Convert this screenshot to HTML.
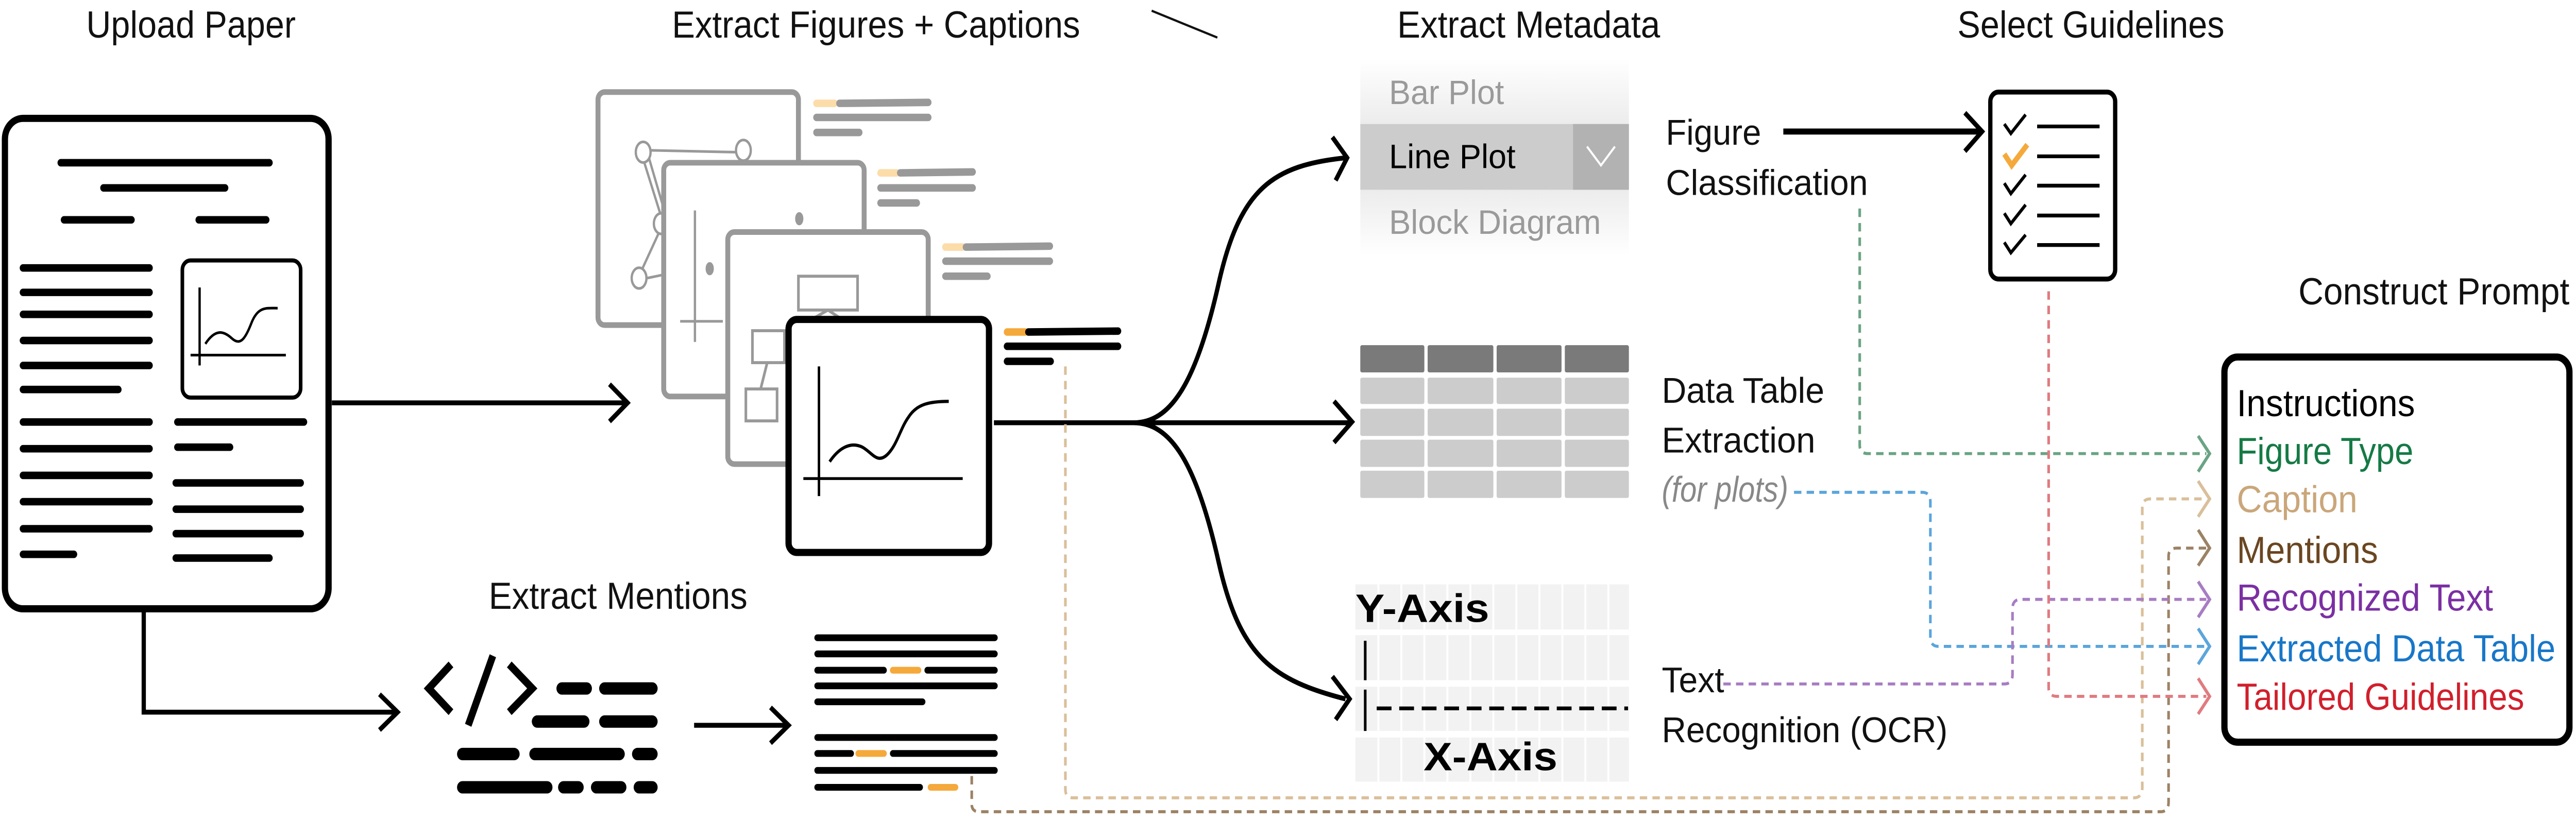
<!DOCTYPE html>
<html><head><meta charset="utf-8"><style>
html,body{margin:0;padding:0;background:#fff;width:100%;height:100%;overflow:hidden;}
svg{display:block;width:100vw;height:100vh;}
text{font-family:"Liberation Sans",sans-serif;}
</style></head><body>
<svg viewBox="0 0 1568 445.45" preserveAspectRatio="none" xmlns="http://www.w3.org/2000/svg">
<defs>
<linearGradient id="fade1" x1="0" y1="0" x2="0" y2="1"><stop offset="0" stop-color="#fff"/><stop offset="1" stop-color="#ececec"/></linearGradient>
<linearGradient id="fade2" x1="0" y1="0" x2="0" y2="1"><stop offset="0" stop-color="#ececec"/><stop offset="1" stop-color="#fff"/></linearGradient>
</defs>
<rect width="1568" height="445.45" fill="#fff"/>

<g font-size="20" fill="#111">
<text x="52.5" y="20" textLength="127.5" lengthAdjust="spacingAndGlyphs">Upload Paper</text>
<text x="409" y="20" textLength="248.5" lengthAdjust="spacingAndGlyphs">Extract Figures + Captions</text>
<text x="297.5" y="324" textLength="157.5" lengthAdjust="spacingAndGlyphs">Extract Mentions</text>
<text x="850.5" y="20" textLength="160" lengthAdjust="spacingAndGlyphs">Extract Metadata</text>
<text x="1191.5" y="20" textLength="162.5" lengthAdjust="spacingAndGlyphs">Select Guidelines</text>
<text x="1399" y="162" textLength="165" lengthAdjust="spacingAndGlyphs">Construct Prompt</text>
</g>
<line x1="701" y1="5.7" x2="741" y2="20" stroke="#111" stroke-width="1.2"/>

<rect x="3" y="63" width="197" height="261" rx="11" fill="#fff" stroke="#000" stroke-width="3.8"/>
<g stroke="#000" stroke-width="4" stroke-linecap="round">
<line x1="37" y1="86.6" x2="164" y2="86.6"/>
<line x1="63" y1="100" x2="137" y2="100"/>
<line x1="39" y1="117" x2="80" y2="117"/><line x1="121" y1="117" x2="162" y2="117"/>
<line x1="14" y1="142.6" x2="91" y2="142.6"/>
<line x1="14" y1="155.6" x2="91" y2="155.6"/>
<line x1="14" y1="167.3" x2="91" y2="167.3"/>
<line x1="14" y1="181.2" x2="91" y2="181.2"/>
<line x1="14" y1="194.5" x2="91" y2="194.5"/>
<line x1="14" y1="207.3" x2="72" y2="207.3"/>
<line x1="14" y1="224.6" x2="91" y2="224.6"/>
<line x1="14" y1="238.8" x2="91" y2="238.8"/>
<line x1="14" y1="253" x2="91" y2="253"/>
<line x1="14" y1="267" x2="91" y2="267"/>
<line x1="14" y1="281.4" x2="91" y2="281.4"/>
<line x1="14" y1="295" x2="45" y2="295"/>
<line x1="108" y1="224.6" x2="185" y2="224.6"/>
<line x1="108" y1="238" x2="140" y2="238"/>
<line x1="107" y1="257" x2="183" y2="257"/>
<line x1="107" y1="271" x2="183" y2="271"/>
<line x1="107" y1="284" x2="183" y2="284"/>
<line x1="107" y1="297" x2="164" y2="297"/>
</g>
<rect x="111" y="138.6" width="72" height="73" rx="5" fill="#fff" stroke="#000" stroke-width="2.2"/>
<line x1="121.5" y1="153" x2="121.5" y2="194.5" stroke="#000" stroke-width="1.4"/>
<line x1="116" y1="189" x2="174" y2="189" stroke="#000" stroke-width="1.4"/>
<path d="M125,183 C131,175 136,176 141,180 C146,184 149,181 153,172 C157,163 162,164 169,164" fill="none" stroke="#000" stroke-width="1.4"/>

<g fill="none" stroke="#000" stroke-width="2.6">
<line x1="202" y1="214.4" x2="381" y2="214.4"/>
<polyline points="371,204.5 382,214.4 371,224.3"/>
<polyline points="87.5,324 87.5,379 241,379"/>
<polyline points="231,369.5 242,379 231,388.5"/>
<line x1="422.5" y1="386" x2="479" y2="386"/>
<polyline points="469,376.5 480,386 469,395.5"/>
</g>

<rect x="364" y="49" width="122" height="124" rx="4" fill="#fff" stroke="#999" stroke-width="3"/>
<g fill="none" stroke="#999" stroke-width="1.4">
<ellipse cx="391.5" cy="81" rx="4.5" ry="5.5"/><ellipse cx="452.5" cy="80" rx="4.5" ry="5.5"/>
<ellipse cx="402.5" cy="119" rx="4.5" ry="5.5"/><ellipse cx="389" cy="148" rx="4.5" ry="5.5"/>
<line x1="392" y1="86" x2="402" y2="114"/><line x1="395" y1="84" x2="405" y2="114"/>
<line x1="401" y1="124" x2="391" y2="143"/><line x1="394" y1="148" x2="405" y2="146"/>
<line x1="396" y1="80" x2="448" y2="81"/>
</g>
<rect x="404" y="86.6" width="122" height="124.4" rx="4" fill="#fff" stroke="#999" stroke-width="3"/>
<g stroke="#999" stroke-width="1.4" fill="#999">
<line x1="423" y1="112" x2="423" y2="182"/><line x1="414" y1="171" x2="440" y2="171"/>
<ellipse cx="486.5" cy="116.4" rx="1.8" ry="2.8"/><ellipse cx="432" cy="143" rx="1.8" ry="2.8"/>
</g>
<rect x="443" y="123.5" width="122" height="123.5" rx="4" fill="#fff" stroke="#999" stroke-width="3"/>
<g fill="none" stroke="#999" stroke-width="1.6">
<rect x="486" y="147" width="36" height="18"/>
<rect x="458" y="176" width="19.5" height="17"/>
<rect x="454" y="207" width="19" height="17"/>
<line x1="504" y1="165" x2="490" y2="172"/><line x1="504" y1="165" x2="516" y2="172"/>
<line x1="467" y1="193" x2="463" y2="207"/>
</g>
<rect x="480" y="170" width="122" height="124" rx="5" fill="#fff" stroke="#000" stroke-width="3.8"/>
<line x1="498.5" y1="195" x2="498.5" y2="264" stroke="#000" stroke-width="1.5"/>
<line x1="489" y1="254.7" x2="586" y2="254.7" stroke="#000" stroke-width="1.5"/>
<path d="M505,245.7 C511,238 518,235 525,238 C531,241 534,247 540,242 C546,237 548,228 553,222 C558,215 566,213.6 577.5,213.6" fill="none" stroke="#000" stroke-width="1.7"/>

<g stroke-width="4" stroke-linecap="round">
<line x1="497" y1="55" x2="508" y2="55" stroke="#fcdca8"/><line x1="511" y1="55" x2="565" y2="54.5" stroke="#999"/>
<line x1="497" y1="62.5" x2="565" y2="62.5" stroke="#999"/><line x1="497" y1="70.5" x2="523" y2="70.5" stroke="#999"/>
<line x1="536" y1="92" x2="546" y2="92" stroke="#fcdca8"/><line x1="548" y1="92" x2="592" y2="91.5" stroke="#999"/>
<line x1="536" y1="100" x2="592" y2="100" stroke="#999"/><line x1="536" y1="108" x2="558" y2="108" stroke="#999"/>
<line x1="575.5" y1="131.5" x2="586" y2="131.5" stroke="#fcdca8"/><line x1="588" y1="131.5" x2="639" y2="131" stroke="#999"/>
<line x1="575.5" y1="139" x2="639" y2="139" stroke="#999"/><line x1="575.5" y1="147" x2="601" y2="147" stroke="#999"/>
<line x1="613" y1="176.7" x2="624" y2="176.7" stroke="#f5a93b"/><line x1="626" y1="176.7" x2="680.5" y2="176.2" stroke="#000"/>
<line x1="613" y1="184.3" x2="680.5" y2="184.3" stroke="#000"/><line x1="613" y1="192.3" x2="639.5" y2="192.3" stroke="#000"/>
</g>

<g fill="none" stroke="#000" stroke-width="2.6">
<path d="M605,225 L822,225"/>
<path d="M690,225 C712,225 728,205 742,150 C755,100 775,88 819,84"/>
<path d="M690,225 C712,225 728,245 742,300 C755,350 775,362 819,372"/>
<polyline points="811,73 820,84 813,96"/>
<polyline points="812,213.5 823,224.5 812,235.5"/>
<polyline points="811,360 821.5,372 813,383"/>
</g>

<rect x="828" y="31" width="163.5" height="35" fill="url(#fade1)"/>
<rect x="828" y="101" width="163.5" height="35" fill="url(#fade2)"/>
<rect x="828" y="66" width="163.5" height="35" fill="#cccccc"/>
<rect x="957.5" y="66" width="34" height="35" fill="#b2b2b2"/>
<polyline points="966,78 974.5,88 983,78" fill="none" stroke="#fff" stroke-width="1.2"/>
<g font-size="18">
<text x="845.5" y="55.4" fill="#9a9a9a" textLength="70" lengthAdjust="spacingAndGlyphs">Bar Plot</text>
<text x="845.5" y="89.5" fill="#000" textLength="77" lengthAdjust="spacingAndGlyphs">Line Plot</text>
<text x="845.5" y="124.4" fill="#9a9a9a" textLength="129" lengthAdjust="spacingAndGlyphs">Block Diagram</text>
</g>

<g fill="#7a7a7a">
<rect x="828" y="183.7" width="39" height="14.5" rx="1"/><rect x="869" y="183.7" width="40" height="14.5" rx="1"/>
<rect x="911" y="183.7" width="39.5" height="14.5" rx="1"/><rect x="952.5" y="183.7" width="39" height="14.5" rx="1"/>
</g>
<g fill="#cccccc">
<rect x="828" y="201" width="39" height="14" rx="1"/><rect x="869" y="201" width="40" height="14" rx="1"/><rect x="911" y="201" width="39.5" height="14" rx="1"/><rect x="952.5" y="201" width="39" height="14" rx="1"/>
<rect x="828" y="217.5" width="39" height="14.5" rx="1"/><rect x="869" y="217.5" width="40" height="14.5" rx="1"/><rect x="911" y="217.5" width="39.5" height="14.5" rx="1"/><rect x="952.5" y="217.5" width="39" height="14.5" rx="1"/>
<rect x="828" y="234" width="39" height="14.5" rx="1"/><rect x="869" y="234" width="40" height="14.5" rx="1"/><rect x="911" y="234" width="39.5" height="14.5" rx="1"/><rect x="952.5" y="234" width="39" height="14.5" rx="1"/>
<rect x="828" y="250.5" width="39" height="14.5" rx="1"/><rect x="869" y="250.5" width="40" height="14.5" rx="1"/><rect x="911" y="250.5" width="39.5" height="14.5" rx="1"/><rect x="952.5" y="250.5" width="39" height="14.5" rx="1"/>
</g>

<g fill="#f2f2f2">
<rect x="825" y="311" width="166.5" height="24"/>
<rect x="825" y="338" width="166.5" height="24"/>
<rect x="825" y="365.5" width="166.5" height="23.5"/>
<rect x="825" y="392.5" width="166.5" height="23.5"/>
</g>
<g stroke="#fff" stroke-width="1.2">
<line x1="839" y1="311" x2="839" y2="416"/><line x1="853" y1="311" x2="853" y2="416"/><line x1="867" y1="311" x2="867" y2="416"/>
<line x1="881" y1="311" x2="881" y2="416"/><line x1="895" y1="311" x2="895" y2="416"/><line x1="909" y1="311" x2="909" y2="416"/>
<line x1="923" y1="311" x2="923" y2="416"/><line x1="937" y1="311" x2="937" y2="416"/><line x1="951" y1="311" x2="951" y2="416"/>
<line x1="965" y1="311" x2="965" y2="416"/><line x1="979" y1="311" x2="979" y2="416"/>
</g>
<g font-family="Liberation Mono, monospace" font-weight="bold" font-size="21" fill="#000">
<text x="825" y="331" textLength="81.5" lengthAdjust="spacingAndGlyphs">Y-Axis</text>
<text x="866.5" y="410" textLength="81.5" lengthAdjust="spacingAndGlyphs">X-Axis</text>
</g>
<line x1="831" y1="341" x2="831" y2="362" stroke="#000" stroke-width="1.6"/>
<line x1="831" y1="367" x2="831" y2="389" stroke="#000" stroke-width="1.6"/>
<line x1="838" y1="377" x2="991" y2="377" stroke="#000" stroke-width="2" stroke-dasharray="9,4.7"/>

<g font-size="19" fill="#111">
<text x="1014" y="77" textLength="58" lengthAdjust="spacingAndGlyphs">Figure</text>
<text x="1014" y="103.7" textLength="123" lengthAdjust="spacingAndGlyphs">Classification</text>
<text x="1011.5" y="214.4" textLength="99" lengthAdjust="spacingAndGlyphs">Data Table</text>
<text x="1011.5" y="240.8" textLength="93.5" lengthAdjust="spacingAndGlyphs">Extraction</text>
<text x="1011.5" y="267" fill="#888" font-style="italic" textLength="77" lengthAdjust="spacingAndGlyphs">(for plots)</text>
<text x="1011.5" y="368.4" textLength="38" lengthAdjust="spacingAndGlyphs">Text</text>
<text x="1011.5" y="395" textLength="174" lengthAdjust="spacingAndGlyphs">Recognition (OCR)</text>
</g>

<line x1="1085.5" y1="70" x2="1205" y2="70" stroke="#000" stroke-width="3.2"/>
<polyline points="1196,60 1206.5,70 1196,80.5" fill="none" stroke="#000" stroke-width="2.6"/>

<rect x="1211.5" y="49" width="76" height="99.5" rx="5" fill="#fff" stroke="#000" stroke-width="2.6"/>
<g fill="none" stroke-width="1.8">
<polyline points="1220,66 1224,71 1233,61" stroke="#000"/>
<polyline points="1220,82 1224.5,88 1234,77" stroke="#f5a93b" stroke-width="3"/>
<polyline points="1220,97.5 1224,103 1233,93" stroke="#000"/>
<polyline points="1220,113.5 1224,119 1233,109" stroke="#000"/>
<polyline points="1220,129 1224,134.5 1233,125" stroke="#000"/>
</g>
<g stroke="#000" stroke-width="2">
<line x1="1240" y1="67.3" x2="1278" y2="67.3"/><line x1="1240" y1="83.2" x2="1278" y2="83.2"/>
<line x1="1240" y1="98.8" x2="1278" y2="98.8"/><line x1="1240" y1="114.7" x2="1278" y2="114.7"/>
<line x1="1240" y1="130.4" x2="1278" y2="130.4"/>
</g>

<g fill="none" stroke="#000" stroke-width="4.2">
<polyline points="274.5,353.6 261,366.4 274.5,379"/>
<line x1="300" y1="349" x2="285" y2="386"/>
<polyline points="310,353.6 324,366.4 310,379"/>
</g>
<g stroke="#000" stroke-width="6.6" stroke-linecap="round">
<line x1="342" y1="366.4" x2="357" y2="366.4"/><line x1="368" y1="366.4" x2="397" y2="366.4"/>
<line x1="327" y1="384" x2="355.5" y2="384"/><line x1="368" y1="384" x2="397" y2="384"/>
<line x1="281.5" y1="401.3" x2="313" y2="401.3"/><line x1="325.5" y1="401.3" x2="377" y2="401.3"/><line x1="388" y1="401.3" x2="397" y2="401.3"/>
<line x1="281.5" y1="419" x2="333" y2="419"/><line x1="343" y1="419" x2="352" y2="419"/><line x1="363" y1="419" x2="378" y2="419"/><line x1="389" y1="419" x2="397" y2="419"/>
</g>

<g stroke-width="3.6" stroke-linecap="round">
<line x1="497.5" y1="339.4" x2="605.5" y2="339.4" stroke="#000"/>
<line x1="497.5" y1="348" x2="605.5" y2="348" stroke="#000"/>
<line x1="497.5" y1="356.7" x2="538" y2="356.7" stroke="#000"/><line x1="543.5" y1="356.7" x2="559" y2="356.7" stroke="#f5a93b"/><line x1="564.5" y1="356.7" x2="605.5" y2="356.7" stroke="#000"/>
<line x1="497.5" y1="365" x2="605.5" y2="365" stroke="#000"/>
<line x1="497.5" y1="373.5" x2="561.5" y2="373.5" stroke="#000"/>
<line x1="497.5" y1="392.5" x2="605.5" y2="392.5" stroke="#000"/>
<line x1="497.5" y1="401" x2="518" y2="401" stroke="#000"/><line x1="522.5" y1="401" x2="538" y2="401" stroke="#f5a93b"/><line x1="543.5" y1="401" x2="605.5" y2="401" stroke="#000"/>
<line x1="497.5" y1="410" x2="605.5" y2="410" stroke="#000"/>
<line x1="497.5" y1="419" x2="560" y2="419" stroke="#000"/><line x1="566.5" y1="419" x2="581.5" y2="419" stroke="#f5a93b"/>
</g>

<g fill="none" stroke-width="1.6" stroke-dasharray="4.5,3.2">
<path d="M648.5,195 L648.5,420 Q648.5,424.6 653,424.6 L1299,424.6 Q1304,424.6 1304,419 L1304,270 Q1304,265.5 1309,265.5 L1343,265.5" stroke="#d9bf9a"/>
<path d="M591.5,413 L591.5,428 Q591.5,432 596,432 L1315,432 Q1320,432 1320,427 L1320,296 Q1320,291.7 1325,291.7 L1343,291.7" stroke="#9c8265"/>
<path d="M1132,111 L1132,237 Q1132,241.4 1137,241.4 L1343,241.4" stroke="#6aa383"/>
<path d="M1092,262 L1170,262 Q1175,262 1175,267 L1175,339 Q1175,344 1180,344 L1343,344" stroke="#5ba5dc"/>
<path d="M1049,364 L1220,364 Q1225,364 1225,359 L1225,324 Q1225,319 1230,319 L1343,319" stroke="#a77dc2"/>
<path d="M1247,155 L1247,366 Q1247,370.6 1252,370.6 L1343,370.6" stroke="#e07b80"/>
</g>
<g fill="none" stroke-width="1.8">
<polyline points="1338,232 1345,241.4 1338,251" stroke="#6aa383"/>
<polyline points="1338,256 1345,265.5 1338,275" stroke="#d9bf9a"/>
<polyline points="1338,282 1345,291.7 1338,301" stroke="#9c8265"/>
<polyline points="1338,309.5 1345,319 1338,328.5" stroke="#a77dc2"/>
<polyline points="1338,334.5 1345,344 1338,353.5" stroke="#5ba5dc"/>
<polyline points="1338,361 1345,370.6 1338,380" stroke="#e07b80"/>
</g>

<rect x="1354" y="190" width="210" height="205" rx="8" fill="#fff" stroke="#000" stroke-width="3.8"/>
<g font-size="20">
<text x="1361.5" y="221.5" fill="#000" textLength="108.5" lengthAdjust="spacingAndGlyphs">Instructions</text>
<text x="1361.5" y="247" fill="#157a45" textLength="107.5" lengthAdjust="spacingAndGlyphs">Figure Type</text>
<text x="1361.5" y="272.6" fill="#caa67a" textLength="73.5" lengthAdjust="spacingAndGlyphs">Caption</text>
<text x="1361.5" y="299.6" fill="#6a4621" textLength="86" lengthAdjust="spacingAndGlyphs">Mentions</text>
<text x="1361.5" y="325" fill="#7b2fa3" textLength="156" lengthAdjust="spacingAndGlyphs">Recognized Text</text>
<text x="1361.5" y="352" fill="#1877c9" textLength="194" lengthAdjust="spacingAndGlyphs">Extracted Data Table</text>
<text x="1361.5" y="377.7" fill="#d11f2c" textLength="175" lengthAdjust="spacingAndGlyphs">Tailored Guidelines</text>
</g>
</svg>
</body></html>
